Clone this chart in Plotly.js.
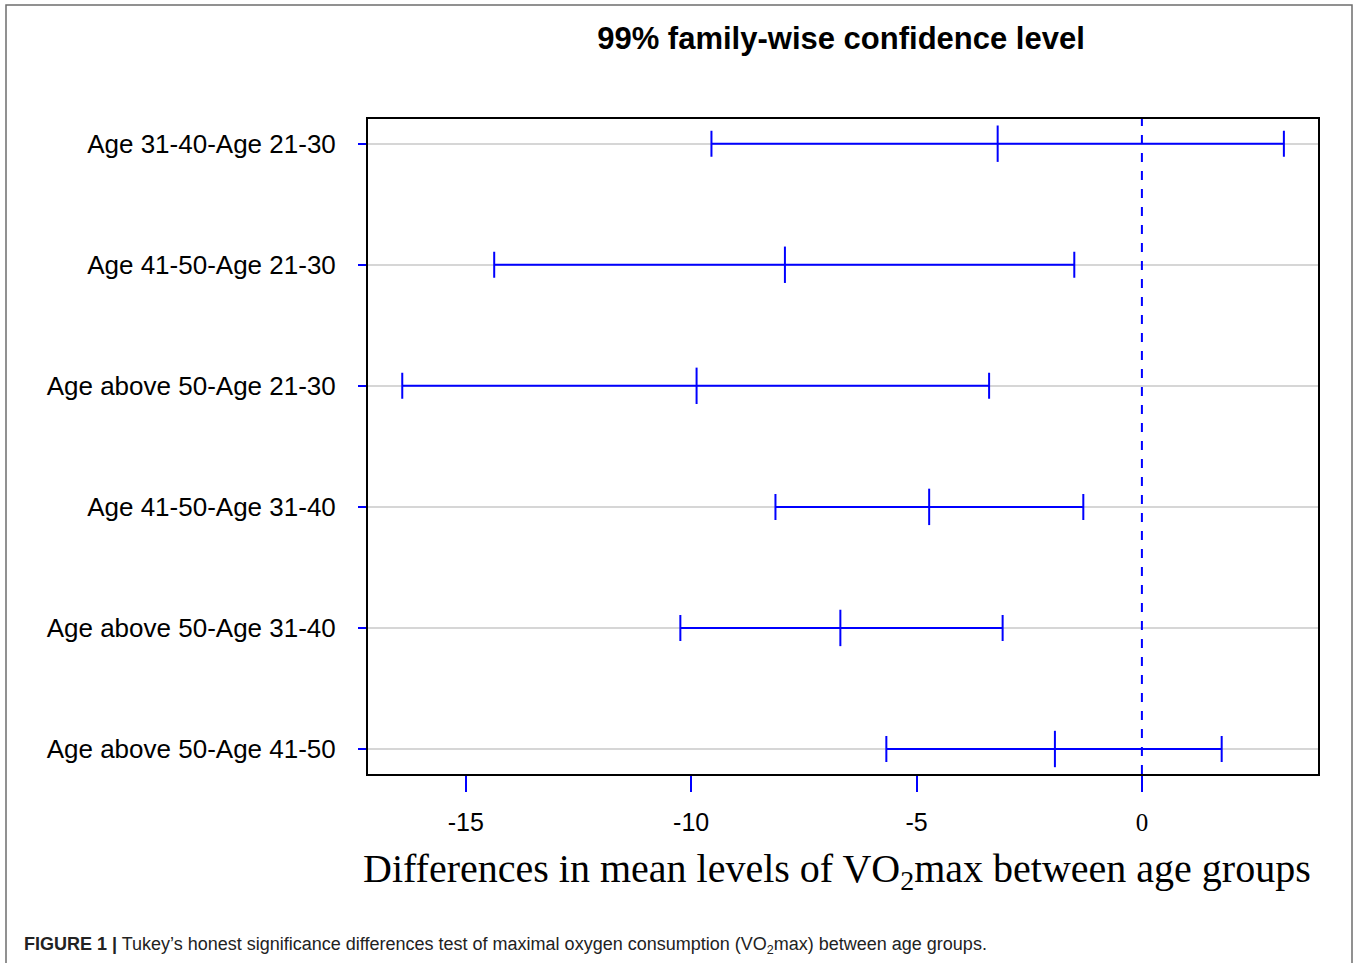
<!DOCTYPE html>
<html>
<head>
<meta charset="utf-8">
<script src="https://cdn.plot.ly/plotly-3.0.1.min.js"></script>
<style>
  html, body { margin: 0; padding: 0; background: #fff; }
  #chart { width: 1357px; height: 963px; }
</style>
</head>
<body>
<div id="chart"></div>
<script>
// Comparisons (top to bottom)
const comparisons = [
  "Age 31-40-Age 21-30",
  "Age 41-50-Age 21-30",
  "Age above 50-Age 21-30",
  "Age 41-50-Age 31-40",
  "Age above 50-Age 31-40",
  "Age above 50-Age 41-50"
];
const rowPos = [6, 5, 4, 3, 2, 1];
const meanDiff = [-3.20, -7.92, -9.88, -4.72, -6.69, -1.93];
const lowerCI  = [-9.55, -14.37, -16.41, -8.13, -10.24, -5.67];
const upperCI  = [3.15, -1.50, -3.39, -1.30, -3.09, 1.77];
const xTicks = [-15, -10, -5, 0];
const xTickLabels = ["-15", "-10", "-5", "0"];

const blue = "#0000ff";
const plusErr = upperCI.map((u, i) => u - meanDiff[i]);
const minusErr = meanDiff.map((m, i) => m - lowerCI[i]);

const trace = {
  type: "scatter",
  mode: "markers",
  x: meanDiff,
  y: rowPos,
  marker: { symbol: "line-ns", size: 26, color: blue, line: { color: blue, width: 2 } },
  error_x: {
    type: "data", symmetric: false,
    array: plusErr, arrayminus: minusErr,
    color: blue, thickness: 2, width: 13
  },
  hoverinfo: "x+y",
  showlegend: false,
  cliponaxis: false
};

// pixel helpers for paper coords (plot area: x 368..1318, y 119..774)
const px = p => (p - 368) / 950;
const py = q => (774 - q) / 655;

// the zero label is drawn in a serif face in the original
const styledTickText = xTicks.map((v, i) =>
  v === 0 ? "<span style='font-family:Liberation Serif, Times New Roman, serif'>" + xTickLabels[i] + "</span>" : xTickLabels[i]);

const layout = {
  width: 1357, height: 963,
  margin: { l: 368, r: 39, t: 119, b: 189 },
  paper_bgcolor: "#ffffff",
  plot_bgcolor: "#ffffff",
  font: { family: "Liberation Sans, Arial, sans-serif", color: "#000" },
  title: {
    text: "<b>99% family-wise confidence level</b>",
    font: { size: 31, family: "Liberation Sans, Arial, sans-serif", color: "#000" },
    x: px(841), xref: "paper", xanchor: "center",
    y: 1 - 38 / 963, yref: "container", yanchor: "middle"
  },
  xaxis: {
    range: [-17.17, 3.907],
    tickvals: xTicks,
    ticktext: styledTickText,
    ticks: "outside", ticklen: 16, tickwidth: 2, tickcolor: blue,
    tickfont: { size: 25, family: "Liberation Sans, Arial, sans-serif" },
    ticklabelstandoff: 9,
    showgrid: false, zeroline: false,
    showline: true, linecolor: "#000", linewidth: 2, mirror: true
  },
  yaxis: {
    range: [0.7935, 6.204],
    tickvals: rowPos,
    ticktext: comparisons,
    ticks: "outside", ticklen: 8, tickwidth: 2, tickcolor: blue,
    tickfont: { size: 26, family: "Liberation Sans, Arial, sans-serif" },
    ticklabelstandoff: 17,
    showgrid: true, gridcolor: "#d6d6d6", gridwidth: 2,
    zeroline: false,
    showline: true, linecolor: "#000", linewidth: 2, mirror: true
  },
  shapes: [
    { type: "line", xref: "x", yref: "paper", x0: 0, x1: 0, y0: 0, y1: 1,
      line: { color: blue, width: 2, dash: "dash" } },
    { type: "rect", xref: "paper", yref: "paper",
      x0: px(6), x1: px(1352), y0: py(975), y1: py(5),
      line: { color: "#6e6e6e", width: 1.5 }, fillcolor: "rgba(0,0,0,0)", layer: "below" }
  ],
  annotations: [
    { xref: "paper", yref: "paper", x: px(837), y: py(871),
      xanchor: "center", yanchor: "middle", showarrow: false,
      text: "Differences in mean levels of VO<sub>2</sub>max between age groups",
      font: { size: 40, family: "Liberation Serif, Times New Roman, serif", color: "#000" } },
    { xref: "paper", yref: "paper", x: px(22), y: py(946),
      xanchor: "left", yanchor: "middle", showarrow: false, align: "left",
      text: "<b>FIGURE 1 |</b> Tukey\u2019s honest significance differences test of maximal oxygen consumption (VO<sub>2</sub>max) between age groups.",
      font: { size: 18, family: "Liberation Sans Narrow, Liberation Sans, Arial, sans-serif", color: "#222" } }
  ]
};

Plotly.newPlot("chart", [trace], layout, { displayModeBar: false, staticPlot: true });
</script>
</body>
</html>
